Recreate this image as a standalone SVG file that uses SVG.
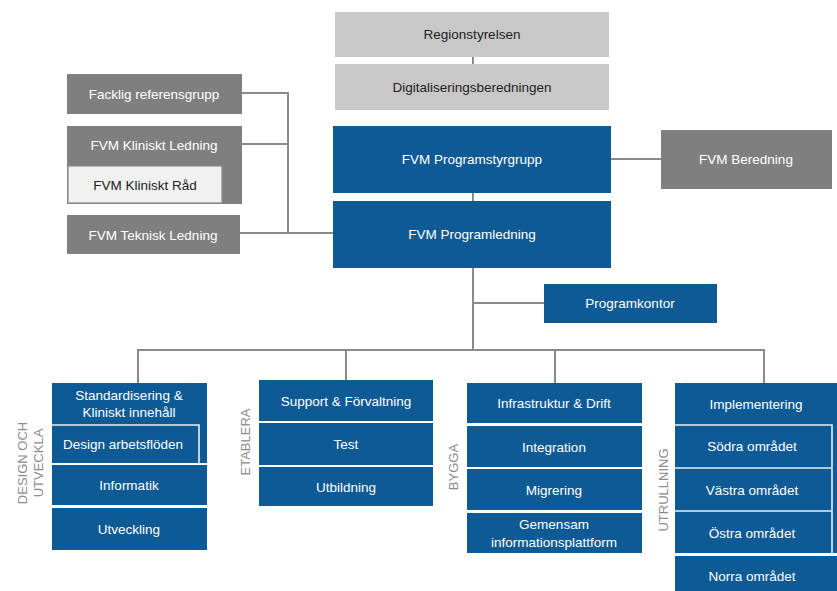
<svg xmlns="http://www.w3.org/2000/svg" width="837" height="591" viewBox="0 0 837 591">
  <style>
    .blue { fill: #0e5a94; }
    .dark { fill: #7f7f7f; }
    .light { fill: #c8c8c8; }
    .edge { stroke: #e9eef3; stroke-width: 1.6; fill: none; }
    .t { font-family: "Liberation Sans", Arial, sans-serif; font-size: 13.5px; text-anchor: middle; dominant-baseline: central; }
    .w { fill: #ffffff; }
    .k { fill: #222222; }
    .side { font-family: "Liberation Sans", Arial, sans-serif; font-size: 13px; fill: #8c8c8c; text-anchor: middle; dominant-baseline: central; }
    .conn line, .conn polyline { stroke: #8a8a8a; stroke-width: 2; fill: none; }
  </style>
  <rect width="837" height="591" fill="#ffffff"/>

  <!-- connectors -->
  <g id="connectors" class="conn">
    <line x1="473" y1="57" x2="473" y2="64"/>
    <line x1="473" y1="193" x2="473" y2="201"/>
    <line x1="611" y1="159" x2="661" y2="159"/>
    <polyline points="242,93 288,93 288,233"/>
    <line x1="242" y1="144" x2="288" y2="144"/>
    <line x1="240" y1="233" x2="333" y2="233"/>
    <line x1="473" y1="268" x2="473" y2="350"/>
    <line x1="473" y1="303" x2="544" y2="303"/>
    <line x1="137" y1="350" x2="765" y2="350"/>
    <line x1="138" y1="349" x2="138" y2="383"/>
    <line x1="346" y1="349" x2="346" y2="380"/>
    <line x1="555" y1="349" x2="555" y2="383"/>
    <line x1="764" y1="349" x2="764" y2="383"/>
  </g>

  <!-- governance -->
  <g id="regionstyrelsen">
    <rect class="light" x="335" y="12" width="274" height="45"/>
    <text class="t k" x="472" y="34">Regionstyrelsen</text>
  </g>
  <g id="digitaliseringsberedningen">
    <rect class="light" x="335" y="64" width="274" height="46"/>
    <text class="t k" x="472" y="87">Digitaliseringsberedningen</text>
  </g>

  <!-- advisory groups -->
  <g id="facklig-referensgrupp">
    <rect class="dark" x="67" y="74" width="175" height="40"/>
    <text class="t w" x="154" y="94">Facklig referensgrupp</text>
  </g>
  <g id="kliniskt-ledning">
    <rect class="dark" x="67" y="126" width="175" height="78"/>
    <text class="t w" x="154" y="145">FVM Kliniskt Ledning</text>
  </g>
  <g id="kliniskt-rad">
    <rect x="68" y="166" width="154" height="37" fill="#f1f1f1" stroke="#8a8a8a" stroke-width="1.2"/>
    <text class="t k" x="145" y="185">FVM Kliniskt Råd</text>
  </g>
  <g id="teknisk-ledning">
    <rect class="dark" x="67" y="215" width="173" height="39"/>
    <text class="t w" x="153" y="235">FVM Teknisk Ledning</text>
  </g>

  <!-- programme management -->
  <g id="programstyrgrupp">
    <rect class="blue" x="333" y="126" width="278" height="67"/>
    <text class="t w" x="472" y="159" font-size="14.5">FVM Programstyrgrupp</text>
  </g>
  <g id="programledning">
    <rect class="blue" x="333" y="201" width="278" height="67"/>
    <text class="t w" x="472" y="234" font-size="14.5">FVM Programledning</text>
  </g>
  <g id="beredning">
    <rect class="dark" x="661" y="130" width="171" height="59"/>
    <text class="t w" x="746" y="159">FVM Beredning</text>
  </g>
  <g id="programkontor">
    <rect class="blue" x="544" y="284" width="173" height="39"/>
    <text class="t w" x="630" y="303">Programkontor</text>
  </g>

  <!-- column: design och utveckla -->
  <g id="design-och-utveckla">
    <text class="side" transform="translate(22 463) rotate(-90)">DESIGN OCH</text>
    <text class="side" transform="translate(38 463) rotate(-90)">UTVECKLA</text>
  </g>
  <g id="standardisering">
    <rect class="blue" x="52" y="383" width="155" height="80"/>
    <text class="t w" x="129" y="395">Standardisering &amp;</text>
    <text class="t w" x="129" y="412">Kliniskt innehåll</text>
  </g>
  <g id="design-arbetsfloden">
    <rect class="blue" x="52" y="425" width="147" height="38"/>
    <polyline class="edge" points="52,425 199,425 199,463"/>
    <text class="t w" x="123" y="444">Design arbetsflöden</text>
  </g>
  <g id="informatik">
    <rect class="blue" x="52" y="465" width="155" height="40"/>
    <text class="t w" x="129" y="485">Informatik</text>
  </g>
  <g id="utveckling">
    <rect class="blue" x="52" y="508" width="155" height="42"/>
    <text class="t w" x="129" y="529">Utveckling</text>
  </g>

  <!-- column: etablera -->
  <g id="etablera">
    <text class="side" transform="translate(245 442) rotate(-90)">ETABLERA</text>
  </g>
  <g id="support">
    <rect class="blue" x="259" y="380" width="174" height="41"/>
    <text class="t w" x="346" y="401">Support &amp; Förvaltning</text>
  </g>
  <g id="test">
    <rect class="blue" x="259" y="423" width="174" height="42"/>
    <text class="t w" x="346" y="444">Test</text>
  </g>
  <g id="utbildning">
    <rect class="blue" x="259" y="467" width="174" height="39"/>
    <text class="t w" x="346" y="487">Utbildning</text>
  </g>

  <!-- column: bygga -->
  <g id="bygga">
    <text class="side" transform="translate(453 467) rotate(-90)">BYGGA</text>
  </g>
  <g id="infrastruktur">
    <rect class="blue" x="467" y="383" width="175" height="40"/>
    <text class="t w" x="554" y="403">Infrastruktur &amp; Drift</text>
  </g>
  <g id="integration">
    <rect class="blue" x="467" y="426" width="175" height="41"/>
    <text class="t w" x="554" y="447">Integration</text>
  </g>
  <g id="migrering">
    <rect class="blue" x="467" y="469" width="175" height="41"/>
    <text class="t w" x="554" y="490">Migrering</text>
  </g>
  <g id="gemensam">
    <rect class="blue" x="467" y="513" width="175" height="40"/>
    <text class="t w" x="554" y="524">Gemensam</text>
    <text class="t w" x="554" y="542">informationsplattform</text>
  </g>

  <!-- column: utrullning -->
  <g id="utrullning">
    <text class="side" transform="translate(663 490) rotate(-90)">UTRULLNING</text>
  </g>
  <g id="implementering">
    <rect class="blue" x="675" y="383" width="162" height="170"/>
    <text class="t w" x="756" y="404">Implementering</text>
  </g>
  <g id="sodra">
    <polyline class="edge" points="675,425 832,425 832,467"/>
    <text class="t w" x="752" y="446">Södra området</text>
  </g>
  <g id="vastra">
    <polyline class="edge" points="675,468 832,468 832,510"/>
    <text class="t w" x="752" y="490">Västra området</text>
  </g>
  <g id="ostra">
    <polyline class="edge" points="675,511 832,511 832,553"/>
    <text class="t w" x="752" y="533">Östra området</text>
  </g>
  <g id="norra">
    <rect class="blue" x="675" y="556" width="162" height="35"/>
    <text class="t w" x="752" y="576">Norra området</text>
  </g>
</svg>
